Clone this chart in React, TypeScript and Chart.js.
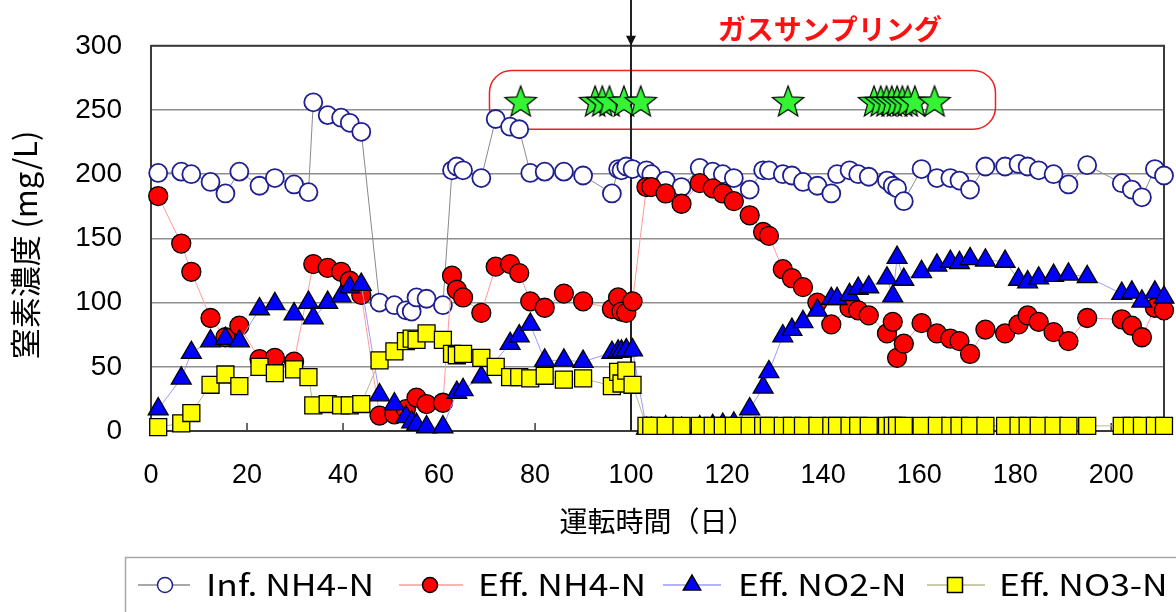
import React, { useEffect, useRef } from 'react';
import { Chart, registerables } from 'chart.js';

Chart.register(...registerables);

// ---------------- data ----------------
const days = [
  1.5, 6.3, 8.4, 12.4, 15.5, 18.4, 22.6, 25.8, 29.8, 32.8, 33.8, 36.8, 39.6, 41.4, 43.8,
  47.6, 50.7, 53.1, 54.3, 55.3, 57.4, 60.8, 62.7, 63.7, 65, 68.8, 71.8, 74.8, 76.7, 79,
  82, 86, 90, 96, 97.3, 98, 99, 100.3,
  103.2, 104.2, 107.2, 110.5, 114.3, 117, 119.1, 121.4, 124.7, 127.5, 128.7, 131.6, 133.5,
  135.8, 138.8, 141.7, 142.9, 145.5, 147.3, 149.5, 153.3, 154.5, 155.4, 156.8, 160.5, 163.7,
  166.5, 168.4, 170.6, 173.8, 177.9, 180.7, 182.6, 184.9, 188, 191.1, 195, 202.2, 204.3,
  206.4, 209.1, 211,
];

const infNH4 = [
  201, 202, 200, 194, 185, 202, 191, 197, 192, 186, 256, 246, 244, 240, 233,
  100, 98, 94, 93, 104, 103, 98, 203, 206, 203, 197, 243, 237, 235, 201,
  202, 202, 199, 185, 204, 203, 206, 204,
  203, 200, 195, 190, 205, 202, 200, 197, 188, 203, 203, 200, 199,
  194, 191, 185, 200, 203, 200, 198, 195, 191, 189, 179, 204, 197,
  197, 195, 188, 206, 206, 208, 206, 203, 200, 192, 207, 193, 188,
  182, 204, 199,
];

const effNH4 = [
  183, 146, 124, 88, 73, 82, 56, 57, 54, null, 130, 127, 124, 117, 106,
  12, 13, 17, null, 26, 21, 22, 121, 110, 104, 92, 128, 130, 123, 101,
  96, 107, 101, 95, 104, 93, 92, 101,
  190, 190, 185, 177, 193, 189, 185, 179, 168, 155, 152, 126, 119,
  112, 100, 83, null, 96, 94, 90, 76, 85, 57, 68, 84, 76,
  72, 70, 60, 79, 76, 83, 90, 85, 77, 70, 88, 87, 82,
  73, 96, 94,
];

const effNO2 = [
  17, 41, 61, 70, 72, 70, 95, 99, 91, 100, 88, 100, 105, 112, 114,
  28, 21, 11, 7, 5, 3, 3, null, 30, 32, 42, null, 68, 74, 83,
  55, 55, 54, 61, 62, 62, 63, 63,
  2, 2, 3, 2, 3, 4, 5, 6, 17, 34, 46, 74, 79,
  85, 94, 103, 103, 106, 111, 112, 119, 105, 135, 118, 124, 129,
  132, 131, 134, 133, 132, 118, 116, 119, 121, 122, 120, 107, 108,
  101, 108, 104,
];

const effNO3 = [
  3, 6, 14, 36, 44, 35, 50, 45, 48, 42, 20, 21, 20, 20, 21,
  55, 62, 70, 72, 71, 76, 71, 60, 59, 60, 57, 50, 42, 42, 41,
  43, 40, 41, 35, 46, 37, 47, 36,
  4, 4, 4, 4, 4, 4, 4, 4, 4, 4, 4, 4, 4,
  4, 4, 4, 4, 4, 4, 4, 4, 4, 4, 4, 4, 4,
  4, 4, 4, 4, 4, 4, 4, 4, 4, 4, 4, 4, 4,
  4, 4, 4,
];

const gasDays = [77, 92.5, 94, 95.5, 98.5, 102, 132.7, 150.6, 152, 153.2, 154.3, 155.4, 156.5, 157.6, 159.1, 163.2];
const gasLevel = [257];

const seriesNames = ['Inf. NH4-N', 'Eff. NH4-N', 'Eff. NO2-N', 'Eff. NO3-N'];
const xTitle = '運転時間（日）';
const yTitle = '窒素濃度 (mg/L)';
const gasLabel = 'ガスサンプリング';
const switchDay = [100];
const gasBox = { x0: 70.5, x1: 175.9, y0: 235, y1: 280.7 };
const xRange = [0, 211];
const yRange = [0, 300];

// ---------------- styles ----------------
const LATIN = "'Liberation Sans', Arial, sans-serif";
const CJK = "'Noto Sans CJK JP', 'Noto Sans', sans-serif";
const AXIS = '#3a3a3a';

const styles = [
  { line: '#8a8a8a', fill: '#ffffff', border: '#1f1f8f', shape: 'circle' },
  { line: '#ff9a9a', fill: '#ff0000', border: '#000000', shape: 'circle' },
  { line: '#9a9aff', fill: '#0000ff', border: '#000000', shape: 'triangle' },
  { line: '#b9b98e', fill: '#ffff00', border: '#000000', shape: 'rect' },
];

function makeStar(size: number): HTMLCanvasElement {
  const c = document.createElement('canvas');
  c.width = size;
  c.height = size;
  const g = c.getContext('2d')!;
  const R = size / 2 - 1.5;
  const r = R * 0.42;
  const cx = size / 2;
  const cy = size / 2 + (R - 0.809 * R) / 2;
  g.beginPath();
  for (let i = 0; i < 10; i++) {
    const rad = i % 2 === 0 ? R : r;
    const a = -Math.PI / 2 + (i * Math.PI) / 5;
    const px = cx + rad * Math.cos(a);
    const py = cy + rad * Math.sin(a);
    if (i === 0) g.moveTo(px, py);
    else g.lineTo(px, py);
  }
  g.closePath();
  g.fillStyle = '#33f533';
  g.fill();
  g.strokeStyle = '#000';
  g.lineWidth = 1.2;
  g.stroke();
  return c;
}

function drawMarker(ctx: CanvasRenderingContext2D, shape: string, x: number, y: number, r: number, fill: string, border: string) {
  ctx.save();
  ctx.beginPath();
  if (shape === 'circle') {
    ctx.arc(x, y, r, 0, Math.PI * 2);
  } else if (shape === 'triangle') {
    ctx.moveTo(x, y - r);
    ctx.lineTo(x + r * 0.866, y + r / 2);
    ctx.lineTo(x - r * 0.866, y + r / 2);
    ctx.closePath();
  } else {
    const h = r * 0.75;
    ctx.rect(x - h, y - h, 2 * h, 2 * h);
  }
  ctx.fillStyle = fill;
  ctx.fill();
  ctx.strokeStyle = border;
  ctx.lineWidth = 1.5;
  ctx.stroke();
  ctx.restore();
}

const decoPlugin = {
  id: 'deco',
  beforeDatasetsDraw(chart: any) {
    const { ctx, chartArea } = chart;
    const xs = chart.scales.x;
    const ys = chart.scales.y;
    ctx.save();
    // top and right border
    ctx.strokeStyle = AXIS;
    ctx.lineWidth = 2;
    ctx.beginPath();
    ctx.moveTo(chartArea.left, chartArea.top);
    ctx.lineTo(chartArea.right, chartArea.top);
    ctx.lineTo(chartArea.right, chartArea.bottom);
    ctx.stroke();
    // inside tick marks on x axis
    ctx.lineWidth = 1.5;
    xs.ticks.forEach((t: any) => {
      const px = xs.getPixelForValue(t.value);
      ctx.beginPath();
      ctx.moveTo(px, chartArea.bottom);
      ctx.lineTo(px, chartArea.bottom - 8);
      ctx.stroke();
    });
    // gas sampling box
    const bx0 = xs.getPixelForValue(gasBox.x0);
    const bx1 = xs.getPixelForValue(gasBox.x1);
    const by0 = ys.getPixelForValue(gasBox.y1);
    const by1 = ys.getPixelForValue(gasBox.y0);
    ctx.strokeStyle = '#ee2020';
    ctx.lineWidth = 1.5;
    ctx.beginPath();
    (ctx as any).roundRect(bx0, by0, bx1 - bx0, by1 - by0, 22);
    ctx.stroke();
    // switch line with arrow
    const sx = Math.round(xs.getPixelForValue(switchDay[0]));
    ctx.strokeStyle = '#222';
    ctx.lineWidth = 2;
    ctx.beginPath();
    ctx.moveTo(sx, 0);
    ctx.lineTo(sx, chartArea.bottom);
    ctx.stroke();
    ctx.fillStyle = '#111';
    ctx.beginPath();
    ctx.moveTo(sx - 5, chartArea.top - 10);
    ctx.lineTo(sx + 5, chartArea.top - 10);
    ctx.lineTo(sx, chartArea.top);
    ctx.closePath();
    ctx.fill();
    ctx.restore();
  },
  afterDraw(chart: any) {
    const { ctx, chartArea } = chart;
    const xs = chart.scales.x;
    ctx.save();
    // gas sampling label
    ctx.fillStyle = '#ff1010';
    ctx.font = `bold 28px ${CJK}`;
    ctx.textAlign = 'center';
    ctx.textBaseline = 'middle';
    ctx.fillText(gasLabel, xs.getPixelForValue(141.4), 29);
    // axis titles
    ctx.fillStyle = '#000';
    ctx.font = `28px ${CJK}`;
    ctx.fillText(xTitle, (chartArea.left + chartArea.right) / 2, 521);
    ctx.save();
    ctx.translate(25, 245);
    ctx.rotate(-Math.PI / 2);
    ctx.font = `31px ${CJK}`;
    ctx.fillText(yTitle, 0, 0);
    ctx.restore();
    // legend box
    ctx.strokeStyle = '#a8a8a8';
    ctx.lineWidth = 1.5;
    ctx.strokeRect(125.5, 557.5, 1200, 100);
    const ly = 585;
    const items = [
      { l0: 138, l1: 190, m: 165, t: 206 },
      { l0: 399, l1: 463, m: 430, t: 478 },
      { l0: 663, l1: 721, m: 692, t: 738 },
      { l0: 927, l1: 985, m: 955, t: 999 },
    ];
    ctx.font = `30px ${CJK}`;
    ctx.textAlign = 'left';
    const sc = 168 / ctx.measureText(seriesNames[0]).width;
    items.forEach((it, i) => {
      const s = styles[i];
      ctx.strokeStyle = s.line;
      ctx.lineWidth = 1.5;
      ctx.beginPath();
      ctx.moveTo(it.l0, ly);
      ctx.lineTo(it.l1, ly);
      ctx.stroke();
      const r = s.shape === 'triangle' ? 10 : s.shape === 'rect' ? 10 : 7.5;
      drawMarker(ctx, s.shape, it.m, ly, r, s.fill, s.border);
      ctx.save();
      ctx.translate(it.t, ly);
      ctx.scale(sc, 1);
      ctx.fillStyle = '#000';
      ctx.fillText(seriesNames[i], 0, 0);
      ctx.restore();
    });
    ctx.restore();
  },
};

export default function App() {
  const ref = useRef<HTMLCanvasElement>(null);
  useEffect(() => {
    document.body.style.margin = '0';
    const canvas = ref.current!;
    const star = makeStar(36);
    const mk = (vals: (number | null)[]) => days.map((d, i) => ({ x: d, y: vals[i] }));
    const radii = [9, 9.5, 11.5, 12];
    const seriesVals = [infNH4, effNH4, effNO2, effNO3];
    const datasets: any[] = seriesVals.map((vals, i) => ({
      label: seriesNames[i],
      data: mk(vals),
      borderColor: styles[i].line,
      borderWidth: 1,
      backgroundColor: styles[i].fill,
      pointStyle: styles[i].shape === 'rect' ? 'rect' : styles[i].shape,
      pointRadius: radii[i],
      pointBackgroundColor: styles[i].fill,
      pointBorderColor: styles[i].border,
      pointBorderWidth: i === 0 ? 1.8 : 1.3,
      spanGaps: true,
      clip: false,
      order: 4 - i,
      tension: 0,
    }));
    datasets.push({
      label: 'gas',
      data: gasDays.map((d) => ({ x: d, y: gasLevel[0] })),
      showLine: false,
      pointStyle: star,
      pointRadius: 17,
      clip: false,
      order: 0,
    });
    const chart = new Chart(canvas, {
      type: 'line',
      data: { datasets },
      options: {
        responsive: false,
        animation: false,
        events: [],
        layout: { padding: { top: 43, right: 12, left: 0, bottom: 0 }, autoPadding: false } as any,
        plugins: { legend: { display: false }, tooltip: { enabled: false } },
        scales: {
          x: {
            type: 'linear',
            min: xRange[0],
            max: xRange[1],
            grid: { display: false, drawTicks: false },
            border: { display: true, color: AXIS, width: 2 },
            ticks: {
              stepSize: 20,
              includeBounds: false,
              padding: 28,
              color: '#000',
              font: { family: LATIN, size: 27 },
              maxRotation: 0,
              autoSkip: false,
            } as any,
            afterFit: (s: any) => { s.height = 181; },
          },
          y: {
            type: 'linear',
            min: yRange[0],
            max: yRange[1],
            grid: { color: '#8e8e8e', lineWidth: 1.5, drawTicks: false },
            border: { display: true, color: AXIS, width: 2 },
            ticks: {
              stepSize: 50,
              padding: 29,
              color: '#000',
              font: { family: LATIN, size: 28 },
            },
            afterFit: (s: any) => { s.width = 151; },
          },
        },
      },
      plugins: [decoPlugin],
    });
    return () => chart.destroy();
  }, []);
  return (
    <div style={{ position: 'absolute', left: 0, top: 0, width: 1176, height: 612, background: '#fff' }}>
      <canvas ref={ref} width={1176} height={612} style={{ display: 'block' }} />
    </div>
  );
}
